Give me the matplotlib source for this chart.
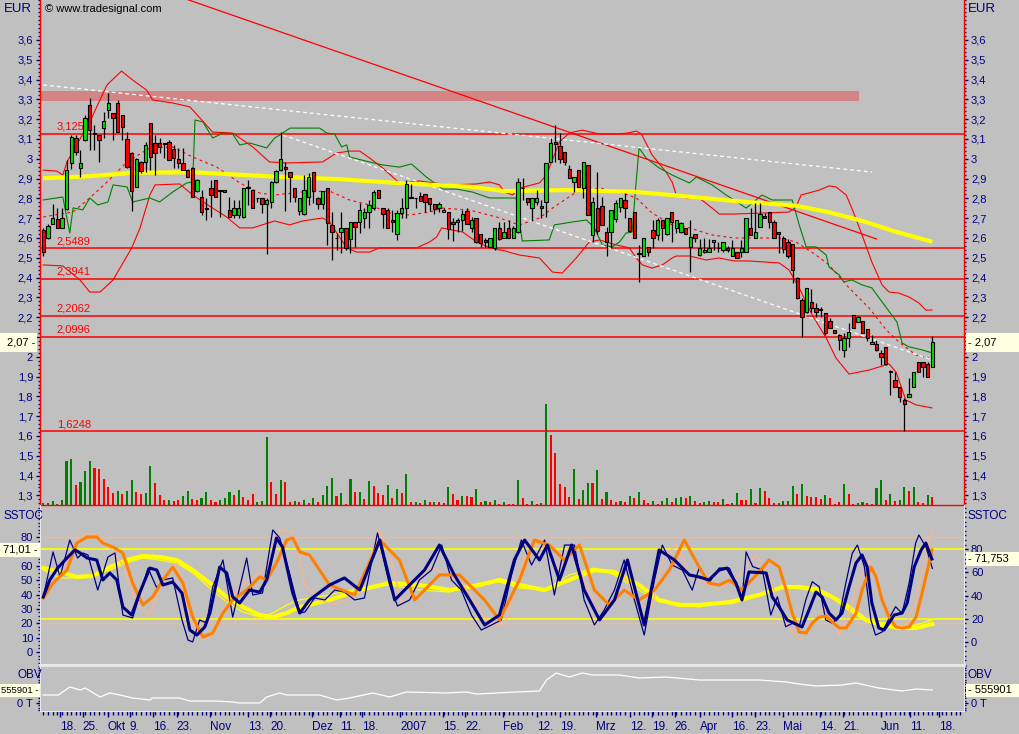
import numpy as np
import matplotlib
matplotlib.use("Agg")
import matplotlib.pyplot as plt
from matplotlib.patches import Rectangle
from matplotlib.ticker import FixedLocator, MultipleLocator, FuncFormatter

plt.rcParams['font.family'] = ['Liberation Sans', 'DejaVu Sans']

# ---------------------------------------------------------------- data
# daily candles (trading-day index 0 = 11 Sep 2006 ... 191 = 15 Jun 2007)
opens = [2.64, 2.60, 2.67, 2.695, 2.65, 2.746, 2.977, 3.104, 2.952, 3.095,
         3.272, 3.13, 3.12, 3.157, 3.246, 3.23, 3.28, 3.221, 3.098, 3.027,
         2.859, 2.985, 2.985, 3.179, 3.078, 3.078, 3.077, 3.083, 3.048, 2.999,
         2.977, 2.943, 2.955, 2.837, 2.809, 2.75, 2.851, 2.893, 2.838, 2.84,
         2.741, 2.716, 2.716, 2.708, 2.85, 2.842, 2.80, 2.80, 2.77, 2.78,
         2.884, 2.943, 2.96, 2.932, 2.851, 2.736, 2.72, 2.809, 2.932, 2.80,
         2.77, 2.851, 2.666, 2.60, 2.628, 2.649, 2.595, 2.679, 2.679, 2.70,
         2.73, 2.753, 2.842, 2.75, 2.741, 2.691, 2.62, 2.724, 2.75, 2.809,
         2.80, 2.812, 2.82, 2.80, 2.772, 2.753, 2.73, 2.73, 2.682, 2.679,
         2.691, 2.736, 2.649, 2.699, 2.618, 2.59, 2.556, 2.548, 2.649, 2.598,
         2.652, 2.598, 2.632, 2.85, 2.80, 2.75, 2.78, 2.761, 2.783, 2.985,
         3.087, 3.067, 3.036, 2.948, 2.881, 2.943, 2.851, 2.968, 2.615, 2.75,
         2.763, 2.632, 2.628, 2.696, 2.758, 2.792, 2.699, 2.73, 2.52, 2.511,
         2.556, 2.64, 2.615, 2.691, 2.618, 2.729, 2.649, 2.628, 2.652, 2.556,
         2.618, 2.514, 2.528, 2.528, 2.578, 2.548, 2.54, 2.55, 2.511, 2.531,
         2.528, 2.528, 2.649, 2.598, 2.657, 2.713, 2.73, 2.682, 2.628, 2.601,
         2.581, 2.568, 2.396, 2.287, 2.228, 2.278, 2.248, 2.236, 2.219, 2.181,
         2.135, 2.11, 2.034, 2.097, 2.211, 2.177, 2.181, 2.139, 2.063, 2.063,
         2.017, 2.051, 1.929, 1.883, 1.849, 1.782, 1.798, 1.849, 1.972, 1.972,
         1.962, 1.95]
highs = [2.65, 2.67, 2.77, 2.75, 2.75, 2.994, 3.12, 3.12, 3.044, 3.22,
         3.305, 3.17, 3.12, 3.238, 3.33, 3.23, 3.297, 3.221, 3.137, 3.036,
         3.006, 2.99, 3.087, 3.179, 3.12, 3.103, 3.078, 3.095, 3.07, 3.053,
         3.053, 2.95, 2.96, 2.90, 2.842, 2.80, 2.893, 2.893, 2.838, 2.84,
         2.809, 2.79, 2.79, 2.854, 2.893, 2.842, 2.80, 2.80, 2.80, 2.89,
         2.943, 3.137, 2.985, 2.932, 2.851, 2.80, 2.918, 2.927, 2.932, 2.809,
         2.837, 2.851, 2.733, 2.624, 2.733, 2.649, 2.679, 2.679, 2.775, 2.75,
         2.792, 2.842, 2.842, 2.75, 2.75, 2.741, 2.741, 2.80, 2.893, 2.871,
         2.80, 2.83, 2.82, 2.80, 2.772, 2.78, 2.75, 2.73, 2.703, 2.703,
         2.741, 2.75, 2.708, 2.699, 2.618, 2.598, 2.598, 2.649, 2.683, 2.679,
         2.691, 2.66, 2.901, 2.901, 2.80, 2.80, 2.842, 2.792, 2.977, 3.103,
         3.17, 3.128, 3.036, 2.968, 2.91, 2.943, 2.985, 2.968, 2.809, 2.935,
         2.809, 2.657, 2.741, 2.792, 2.80, 2.826, 2.699, 2.73, 2.567, 2.598,
         2.556, 2.691, 2.703, 2.691, 2.703, 2.733, 2.691, 2.682, 2.652, 2.691,
         2.618, 2.595, 2.598, 2.595, 2.59, 2.58, 2.578, 2.56, 2.59, 2.531,
         2.59, 2.699, 2.75, 2.775, 2.775, 2.724, 2.73, 2.691, 2.628, 2.611,
         2.595, 2.568, 2.405, 2.295, 2.349, 2.342, 2.27, 2.253, 2.219, 2.194,
         2.135, 2.113, 2.118, 2.169, 2.211, 2.208, 2.181, 2.139, 2.11, 2.085,
         2.034, 2.051, 1.933, 1.925, 1.849, 1.79, 1.891, 1.921, 1.972, 1.972,
         1.972, 2.107]
lows = [2.51, 2.595, 2.67, 2.65, 2.65, 2.74, 2.95, 3.02, 2.91, 3.09,
        3.045, 3.045, 2.985, 3.103, 3.204, 3.095, 3.137, 3.095, 2.952, 2.736,
        2.859, 2.93, 2.935, 2.943, 2.918, 3.028, 3.002, 2.994, 2.952, 2.952,
        2.943, 2.91, 2.809, 2.83, 2.716, 2.69, 2.708, 2.809, 2.708, 2.83,
        2.708, 2.70, 2.70, 2.70, 2.767, 2.75, 2.78, 2.725, 2.52, 2.75,
        2.876, 2.938, 2.736, 2.78, 2.783, 2.716, 2.716, 2.767, 2.775, 2.746,
        2.746, 2.565, 2.489, 2.54, 2.523, 2.54, 2.523, 2.556, 2.624, 2.649,
        2.649, 2.741, 2.80, 2.649, 2.649, 2.628, 2.59, 2.703, 2.703, 2.80,
        2.75, 2.787, 2.733, 2.736, 2.72, 2.733, 2.73, 2.595, 2.585, 2.632,
        2.635, 2.669, 2.632, 2.573, 2.556, 2.556, 2.556, 2.54, 2.59, 2.598,
        2.598, 2.598, 2.624, 2.792, 2.767, 2.686, 2.767, 2.699, 2.708, 2.985,
        2.985, 2.977, 2.968, 2.901, 2.834, 2.859, 2.80, 2.716, 2.581, 2.618,
        2.666, 2.511, 2.548, 2.679, 2.733, 2.699, 2.632, 2.598, 2.38, 2.511,
        2.511, 2.548, 2.59, 2.585, 2.615, 2.578, 2.624, 2.624, 2.618, 2.43,
        2.581, 2.511, 2.523, 2.528, 2.54, 2.531, 2.531, 2.53, 2.511, 2.501,
        2.506, 2.528, 2.615, 2.598, 2.657, 2.699, 2.649, 2.598, 2.523, 2.523,
        2.501, 2.371, 2.292, 2.101, 2.22, 2.228, 2.203, 2.203, 2.11, 2.143,
        2.118, 2.034, 2.0, 2.051, 2.147, 2.177, 2.118, 2.08, 2.063, 2.029,
        1.959, 1.959, 1.807, 1.849, 1.773, 1.625, 1.798, 1.849, 1.921, 1.90,
        1.90, 1.95]
closes = [2.53, 2.66, 2.70, 2.65, 2.70, 2.943, 3.112, 3.036, 2.977, 3.204,
          3.145, 3.125, 3.095, 3.19, 3.28, 3.208, 3.137, 3.162, 2.96, 2.837,
          2.999, 2.938, 3.07, 3.011, 3.028, 3.061, 3.075, 2.994, 3.006, 2.977,
          2.943, 2.91, 2.809, 2.893, 2.73, 2.745, 2.817, 2.809, 2.837, 2.83,
          2.708, 2.75, 2.75, 2.854, 2.86, 2.75, 2.80, 2.77, 2.79, 2.884,
          2.938, 2.999, 2.948, 2.91, 2.809, 2.80, 2.842, 2.91, 2.837, 2.77,
          2.837, 2.674, 2.632, 2.598, 2.649, 2.548, 2.679, 2.657, 2.741, 2.73,
          2.767, 2.83, 2.80, 2.72, 2.649, 2.679, 2.724, 2.75, 2.871, 2.80,
          2.80, 2.787, 2.78, 2.77, 2.746, 2.77, 2.74, 2.644, 2.669, 2.691,
          2.72, 2.669, 2.691, 2.582, 2.573, 2.578, 2.598, 2.649, 2.595, 2.628,
          2.598, 2.649, 2.884, 2.851, 2.78, 2.80, 2.80, 2.75, 2.977, 3.078,
          3.077, 3.0, 2.985, 2.901, 2.91, 2.859, 2.985, 2.716, 2.783, 2.635,
          2.666, 2.581, 2.741, 2.775, 2.80, 2.75, 2.635, 2.598, 2.52, 2.598,
          2.528, 2.598, 2.691, 2.649, 2.699, 2.682, 2.691, 2.674, 2.618, 2.607,
          2.598, 2.548, 2.54, 2.551, 2.59, 2.548, 2.578, 2.54, 2.548, 2.501,
          2.548, 2.699, 2.615, 2.632, 2.72, 2.699, 2.679, 2.598, 2.618, 2.544,
          2.511, 2.438, 2.295, 2.203, 2.349, 2.248, 2.228, 2.235, 2.118, 2.147,
          2.12, 2.085, 2.093, 2.127, 2.147, 2.203, 2.118, 2.093, 2.076, 2.034,
          2.0, 1.962, 1.922, 1.849, 1.798, 1.76, 1.81, 1.921, 1.921, 1.95,
          1.90, 2.073]
# volume in thousand shares
volume = [20, 20, 40, 10, 50, 440, 460, 200, 230, 340, 440, 370, 360, 260, 180, 120, 140, 110, 140, 250,
          130, 110, 120, 390, 220, 100, 50, 50, 40, 50, 90, 140, 60, 50, 70, 130, 50, 30, 50, 70,
          130, 100, 150, 80, 50, 110, 30, 40, 680, 230, 110, 250, 230, 30, 40, 30, 50, 20, 70, 30,
          100, 190, 270, 90, 120, 10, 260, 130, 130, 60, 240, 190, 120, 100, 200, 70, 160, 120, 310, 30,
          30, 20, 50, 30, 30, 30, 20, 180, 110, 50, 90, 90, 80, 160, 30, 40, 30, 50, 10, 30,
          10, 10, 250, 70, 10, 40, 10, 20, 1010, 700, 520, 210, 180, 80, 360, 60, 150, 220, 220, 350,
          60, 130, 50, 30, 40, 30, 90, 70, 130, 50, 20, 40, 10, 40, 70, 30, 70, 80, 70, 90,
          40, 20, 30, 40, 30, 30, 60, 10, 20, 120, 50, 50, 160, 20, 170, 140, 70, 20, 20, 40,
          40, 190, 110, 210, 90, 80, 80, 60, 100, 70, 10, 30, 210, 110, 10, 20, 30, 20, 10, 170,
          250, 50, 110, 40, 50, 180, 140, 180, 30, 20, 100, 80]
volume_dir = ("gggggggrgggrrrrrgrggrrggrrrgrrggrrggrrgggrgrrrgggr"
              "rgrrgrgrgrgggrgrgrgrgrrrgrgrgrgrgrgrrgrrgrrgrgrgrg"
              "rrgrrgrggrrrrrgrggrgrgrrgrgrgrrgrggrggrgrrggrrgrgg"
              "rrgrgrrrggggrgrrrrgrrrgrrggrrggrgrggrgrrgr")

# horizontal support / resistance levels
levels = [3.1251, 2.5489, 2.3941, 2.2062, 2.0996, 1.6248]
zone_low, zone_high, zone_end = 3.292, 3.342, 175.3

# trend lines (day index, price)
trend_red_x, trend_red_p = [20, 179], [3.894, 2.595]
trend_w1_x, trend_w1_p = [0, 178], [3.373, 2.933]
trend_w2_x, trend_w2_p = [51.5, 191], [3.12, 1.984]

# long moving average (yellow)
ma_x = [0, 8.6, 20.0, 32.2, 49.7, 63.0, 77.3, 91.6, 99.0, 112.3, 126.6, 137.3, 148.4, 161.7, 168.8, 176.0, 183.1, 191.0]
ma_p = [2.902, 2.910, 2.930, 2.932, 2.910, 2.898, 2.876, 2.859, 2.837, 2.842, 2.834, 2.812, 2.787, 2.763, 2.730, 2.686, 2.632, 2.581]

# Bollinger bands
bb_up_x = [0, 2.9, 4.2, 5.1, 10.0, 13.7, 16.8, 19.2, 22.2, 23.5, 27.8, 31.5, 36.4, 40.7, 45.0, 48.6, 52.3, 60.0, 63.0, 65.8,
           68.0, 70.1, 72.9, 76.5, 80.8, 87.3, 93.1, 95.9, 98.0, 99.1, 100.8, 102.3, 106.6, 108.1, 110.9, 113.0, 115.8, 119.5, 123.1, 125.5,
           127.4, 128.5, 130.8, 133.8, 135.1, 136.0, 138.1, 140.9, 143.7, 145.2, 148.4, 154.4, 160.2, 161.7, 162.8, 166.7, 168.8, 170.3, 172.5, 173.7,
           175.9, 178.0, 180.2, 181.7, 183.8, 186.0, 188.1, 189.6, 190.9]
bb_up_p = [2.943, 2.938, 2.918, 2.984, 3.187, 3.373, 3.443, 3.398, 3.347, 3.297, 3.282, 3.262, 3.135, 3.130, 3.060, 2.984, 2.979, 2.984, 3.029, 3.039,
           3.039, 3.004, 2.954, 2.878, 2.888, 2.868, 2.873, 2.883, 2.868, 2.832, 2.817, 2.852, 2.878, 2.918, 3.085, 3.130, 3.145, 3.125, 3.125, 3.130,
           3.140, 3.125, 3.019, 2.933, 2.883, 2.817, 2.802, 2.802, 2.751, 2.721, 2.721, 2.726, 2.731, 2.756, 2.817, 2.842, 2.863, 2.858, 2.817, 2.751,
           2.615, 2.479, 2.363, 2.327, 2.322, 2.302, 2.272, 2.236, 2.236]
bb_lo_x = [0, 4.2, 7.9, 10.0, 12.2, 15.0, 19.0, 20.8, 22.9, 24.0, 29.3, 32.1, 36.4, 39.4, 42.2, 45.0, 49.7, 52.9, 55.7, 60.0,
           61.5, 65.2, 67.3, 70.1, 72.2, 80.2, 83.0, 84.5, 85.6, 90.1, 93.1, 95.9, 99.1, 102.3, 106.6, 109.4, 111.5, 114.5, 117.3, 119.5,
           123.1, 125.9, 127.4, 128.7, 130.8, 133.0, 135.1, 136.0, 138.8, 142.4, 145.2, 148.4, 151.6, 158.1, 160.2, 162.4, 165.2, 168.2, 170.3, 173.1,
           177.4, 181.7, 183.2, 185.3, 187.5, 190.9]
bb_lo_p = [2.464, 2.459, 2.388, 2.327, 2.327, 2.388, 2.550, 2.651, 2.817, 2.868, 2.873, 2.817, 2.751, 2.706, 2.651, 2.651, 2.686, 2.666, 2.686, 2.701,
           2.681, 2.550, 2.529, 2.529, 2.550, 2.550, 2.580, 2.605, 2.651, 2.630, 2.580, 2.550, 2.535, 2.514, 2.499, 2.428, 2.423, 2.499, 2.580, 2.590,
           2.565, 2.550, 2.499, 2.464, 2.448, 2.464, 2.499, 2.509, 2.509, 2.489, 2.499, 2.484, 2.484, 2.474, 2.439, 2.348, 2.211, 2.095, 1.994, 1.913,
           1.933, 1.964, 1.923, 1.782, 1.757, 1.742]
bb_mid_x = [0, 6.4, 10.0, 13.7, 18.0, 22.9, 27.8, 32.1, 37.3, 42.2, 46.5, 49.7, 55.7, 61.5, 65.8, 70.1, 74.4, 78.7, 83.0, 85.8,
            91.6, 97.4, 102.3, 106.6, 109.4, 114.5, 119.5, 124.4, 127.4, 130.8, 135.1, 138.1, 143.7, 148.4, 158.1, 161.7, 166.0, 168.8, 173.1, 177.4,
            181.1, 183.8, 187.5, 190.3]
bb_mid_p = [2.706, 2.732, 2.802, 2.883, 2.984, 3.055, 3.060, 3.009, 2.958, 2.878, 2.827, 2.817, 2.832, 2.837, 2.792, 2.767, 2.726, 2.716, 2.731, 2.751,
            2.741, 2.706, 2.666, 2.701, 2.751, 2.832, 2.853, 2.827, 2.802, 2.726, 2.666, 2.656, 2.615, 2.600, 2.600, 2.580, 2.514, 2.464, 2.348, 2.247,
            2.136, 2.075, 2.009, 1.994]

# volatility stop (green)
stop_x = [0, 4.2, 5.7, 6.4, 8.5, 10.0, 11.7, 13.9, 15.0, 18.0, 19.2, 22.9, 25.0, 27.8, 30.8, 32.1, 32.6, 34.3, 36.4, 38.6,
          40.7, 42.2, 44.3, 48.0, 49.7, 50.8, 53.0, 59.4, 60.9, 62.6, 64.1, 65.2, 65.8, 70.1, 72.9, 76.5, 79.1, 82.3, 85.8, 88.8,
          92.2, 95.9, 101.6, 102.9, 108.7, 109.8, 113.7, 116.7, 118.4, 120.1, 122.2, 123.8, 125.2, 126.5, 127.4, 128.0, 129.5, 132.3, 135.1, 138.8,
          140.3, 143.7, 146.7, 148.4, 151.0, 154.4, 156.6, 160.9, 162.4, 163.9, 166.0, 168.2, 168.8, 171.0, 172.0, 173.7, 175.9, 178.0, 180.2, 182.3,
          183.4, 184.5, 186.0, 188.8, 190.9]
stop_p = [2.792, 2.807, 2.625, 2.752, 2.742, 2.802, 2.767, 2.782, 2.868, 2.858, 2.782, 2.802, 2.782, 2.832, 2.878, 2.883, 3.196, 3.186, 3.105, 3.130,
          3.125, 3.070, 3.080, 3.055, 3.105, 3.120, 3.155, 3.155, 3.130, 3.125, 3.060, 3.070, 3.009, 2.984, 2.969, 2.958, 2.974, 2.908, 2.847, 2.847,
          2.832, 2.802, 2.802, 2.585, 2.590, 2.666, 2.681, 2.691, 2.651, 2.565, 2.555, 2.580, 2.625, 2.630, 2.893, 3.055, 3.004, 2.954, 2.918, 2.878,
          2.908, 2.868, 2.817, 2.792, 2.751, 2.817, 2.792, 2.792, 2.666, 2.555, 2.555, 2.514, 2.454, 2.413, 2.378, 2.388, 2.363, 2.348, 2.277, 2.211,
          2.176, 2.070, 2.050, 2.035, 2.020]

# stochastic panel (left-axis units)
nk_x = [0, 1.4, 3.1, 5.1, 6.8, 7.9, 9.4, 11.5, 12.8, 14.3, 15.8, 17.1, 19.0, 20.7, 22.9, 24.4, 25.7, 27.8, 29.8, 31.5,
        33.0, 34.7, 35.8, 37.9, 39.4, 40.7, 42.2, 44.3, 46.5, 48.0, 50.1, 51.4, 53.6, 55.1, 57.2, 61.5, 64.7, 68.0, 72.3, 75.5,
        78.7, 81.9, 85.1, 88.3, 91.6, 94.8, 98.0, 101.2, 103.4, 106.6, 108.3, 110.9, 113.5, 116.2, 119.5, 122.7, 125.5, 129.1, 132.3, 135.6,
        138.8, 140.9, 143.0, 145.2, 146.9, 148.8, 150.1, 151.6, 155.3, 156.6, 158.1, 159.8, 163.0, 164.5, 166.0, 167.3, 168.8, 170.3, 171.6, 173.1,
        174.6, 175.9, 177.0, 178.0, 179.5, 180.6, 181.7, 182.8, 184.5, 185.6, 187.1, 188.6, 189.6, 190.9]
nk_v = [38.3, 50.1, 58.4, 65.4, 71.0, 68.9, 65.4, 64.0, 50.1, 55.0, 50.1, 31.3, 25.7, 41.0, 58.4, 57.0, 46.6, 48.7, 41.0, 15.3,
        11.8, 17.4, 27.1, 59.1, 55.0, 38.3, 34.1, 43.1, 41.7, 50.1, 79.3, 73.0, 41.0, 27.1, 36.2, 46.6, 51.5, 43.1, 77.9, 36.2,
        46.6, 57.0, 74.4, 53.6, 36.2, 18.8, 25.7, 64.0, 77.9, 64.0, 74.4, 50.1, 74.4, 43.1, 22.3, 36.2, 64.0, 18.8, 71.0, 64.0,
        53.6, 52.2, 50.1, 57.0, 58.4, 48.0, 36.2, 55.7, 55.0, 38.3, 31.3, 22.3, 17.4, 29.2, 41.7, 38.3, 27.1, 22.3, 27.1, 45.2,
        61.9, 67.5, 59.1, 34.1, 16.7, 15.3, 20.2, 25.7, 27.1, 34.1, 59.1, 71.0, 75.8, 64.7]
ok_x = [0, 2.1, 5.1, 7.2, 9.4, 11.5, 12.8, 15.0, 17.1, 19.2, 21.4, 23.5, 25.7, 27.8, 30.0, 32.1, 34.3, 36.4, 38.6, 40.7,
        43.7, 46.5, 48.0, 50.1, 52.3, 53.6, 55.1, 57.2, 61.5, 66.9, 72.3, 76.5, 79.8, 85.1, 89.4, 94.8, 98.0, 102.3, 105.5, 108.7,
        111.9, 115.2, 118.4, 121.6, 124.8, 128.0, 131.3, 134.5, 137.7, 140.9, 143.0, 145.2, 147.4, 150.1, 153.8, 155.9, 158.1, 159.6, 160.9, 162.4,
        163.9, 165.2, 166.7, 168.2, 169.5, 171.0, 172.5, 174.6, 175.9, 177.8, 178.9, 180.2, 181.7, 183.2, 184.5, 186.0, 187.5, 188.8, 190.3, 190.9]
ok_v = [37.6, 48.0, 57.0, 75.8, 80.0, 80.0, 75.8, 73.0, 68.9, 48.0, 32.7, 38.3, 50.1, 59.1, 48.0, 24.3, 10.4, 13.2, 27.1, 36.2,
        43.1, 52.2, 50.1, 61.9, 77.9, 79.3, 69.6, 67.5, 46.6, 39.7, 77.9, 64.0, 36.2, 53.6, 53.6, 36.2, 22.3, 50.1, 77.9, 74.4,
        64.0, 74.4, 43.1, 32.7, 43.1, 36.2, 43.1, 57.0, 77.9, 59.1, 48.0, 46.6, 50.1, 43.1, 55.7, 64.0, 59.1, 43.1, 27.1, 13.9,
        13.2, 20.2, 24.3, 25.0, 20.9, 16.7, 16.7, 27.1, 43.1, 59.1, 52.2, 36.2, 24.3, 17.4, 16.7, 17.4, 24.3, 41.0, 61.9, 71.0]
nt_x = [0, 2.1, 3.6, 5.7, 7.4, 8.5, 9.6, 11.7, 13.9, 15.4, 17.1, 19.2, 22.5, 24.4, 25.7, 27.8, 29.8, 31.1, 32.1, 33.6,
        35.1, 36.4, 38.6, 40.7, 43.7, 45.0, 47.1, 49.3, 50.8, 52.9, 55.1, 56.2, 58.3, 60.5, 62.6, 64.7, 66.9, 69.0, 71.8, 74.4,
        76.1, 78.7, 80.8, 83.4, 85.6, 87.7, 89.8, 92.0, 94.1, 96.3, 98.4, 100.6, 102.7, 104.9, 107.7, 109.8, 112.0, 114.1, 116.2, 118.4,
        120.5, 122.7, 124.8, 127.0, 129.1, 131.3, 133.0, 135.1, 137.3, 139.4,
        140.9, 143.0, 145.2, 147.4, 148.8, 150.1, 151.0, 152.4, 154.5, 156.3, 157.7, 159.5, 161.0, 162.4, 163.8, 165.2, 166.7, 168.1,
        169.5, 171.0, 172.4, 173.8, 174.9, 176.4, 177.8, 178.8, 180.3, 181.7, 183.1, 184.5, 186.0, 187.4, 188.1, 189.6, 191.0]
nt_v = [38.3, 69.6, 52.2, 77.9, 65.4, 68.9, 67.5, 43.1, 66.1, 68.9, 25.7, 23.7, 58.4, 44.5, 50.1, 51.5, 22.3, 8.3, 7.0, 22.3,
        20.2, 45.2, 64.0, 24.3, 65.4, 39.7, 41.0, 84.9, 79.3, 55.0, 27.1, 27.8, 37.6, 36.2, 43.1, 41.7, 36.2, 37.6, 82.8, 46.6,
        32.0, 36.2, 50.1, 57.0, 74.4, 50.1, 43.1, 25.7, 15.3, 18.8, 22.3, 53.6, 77.9, 60.5, 77.9, 39.7, 74.4, 74.4, 36.2, 18.8,
        29.2, 43.1, 64.0, 36.2, 11.8, 50.1, 74.4, 60.5, 57.0, 43.1,
        58.4, 48.0, 58.4, 58.4, 48.0, 36.2, 69.6, 59.4, 57.0, 25.7, 38.5, 17.6, 20.0, 17.6, 36.2, 48.9, 45.4, 22.3,
        20.0, 24.6, 47.8, 68.7, 74.4, 59.4, 22.3, 11.8, 14.1, 23.4, 31.5, 26.9, 47.8, 75.6, 81.4, 73.3, 58.2]
st_x = [0, 3.6, 7.2, 9.4, 11.5, 14.3, 17.1, 20.1, 22.9, 25.7, 28.7, 31.5, 34.3, 36.4, 39.4, 43.7, 46.5, 48.6, 50.8, 53.6,
        55.1, 56.2, 59.4, 62.6, 65.8, 69.0, 72.2, 74.8, 77.0, 79.8, 83.0, 86.2, 89.4, 92.6, 95.9, 99.1, 101.9, 104.4, 107.7, 110.9,
        113.5, 116.2, 119.5, 122.0, 124.8, 128.0, 130.6, 133.4, 136.2, 138.8,
        140.9, 145.2, 149.5, 153.1, 155.9, 159.6, 162.4, 165.2, 168.2, 171.0, 173.1, 175.2, 177.4, 179.5, 182.3, 184.9, 187.5, 189.6, 190.9]
st_v = [36.2, 53.6, 77.9, 82.8, 81.4, 72.3, 60.5, 32.7, 25.7, 50.1, 61.9, 22.3, 8.3, 11.8, 36.2, 48.7, 55.0, 64.0, 84.9, 83.5,
        64.0, 46.6, 36.2, 32.7, 37.6, 53.6, 84.9, 64.0, 32.7, 43.1, 60.5, 53.6, 50.1, 36.2, 18.8, 18.8, 50.1, 74.4, 74.4, 57.0,
        71.0, 50.1, 29.2, 32.7, 53.6, 32.7, 29.2, 67.5, 74.4, 53.6,
        50.1, 43.1, 53.6, 67.5, 53.6, 18.8, 8.3, 18.8, 32.7, 11.8, 27.1, 48.0, 64.0, 43.1, 18.8, 15.3, 36.2, 67.5, 84.9]
yk_x = [0, 3.6, 7.2, 10.7, 14.3, 17.9, 21.4, 25.0, 28.7, 32.1, 35.8, 39.4, 42.9, 46.5, 49.3, 52.3, 55.1, 61.5, 68.0, 74.4,
        80.8, 87.3, 93.7, 98.0, 102.3, 107.7, 113.0, 118.4, 122.7, 128.0, 132.3, 136.6, 140.9, 148.0, 153.8, 158.8, 162.4, 166.0, 169.5, 173.1,
        176.7, 180.2, 183.8, 187.5, 191.0]
yk_v = [58.4, 55.7, 52.2, 52.9, 59.1, 64.0, 66.8, 66.1, 64.0, 57.0, 48.0, 38.3, 31.3, 25.7, 24.3, 27.1, 31.3, 36.2, 43.1, 48.0,
        46.6, 43.1, 46.6, 50.1, 46.6, 43.1, 50.1, 57.0, 55.7, 46.6, 36.2, 32.7, 32.7, 34.8, 39.7, 45.2, 45.2, 43.8, 38.3, 31.3,
        22.3, 18.8, 16.7, 16.7, 19.5]
yt_x = [0, 3.6, 7.2, 10.7, 14.3, 17.9, 21.4, 25.0, 28.7, 32.1, 35.8, 39.4, 42.9, 46.5, 49.3, 52.3, 55.1, 61.5, 68.0, 74.4,
        80.8, 87.3, 93.7, 98.0, 102.3, 107.7, 113.0, 118.4, 122.7, 128.0, 132.3, 136.6, 140.9, 148.0, 155.3, 159.6, 164.5, 169.5, 173.8, 177.4,
        181.1, 183.8, 187.5, 190.9]
yt_v = [57.0, 51.5, 51.5, 53.6, 57.0, 61.9, 65.4, 64.0, 61.9, 55.0, 44.5, 34.8, 27.8, 24.3, 27.1, 32.7, 36.2, 39.7, 44.5, 46.6,
        43.1, 41.7, 48.0, 48.7, 44.5, 43.1, 53.6, 58.4, 53.6, 43.1, 34.8, 34.1, 31.3, 36.2, 41.7, 45.2, 43.1, 37.6, 27.1, 20.9,
        20.2, 17.4, 18.8, 22.3]
stoch_last_left, stoch_last_right = 71.01, 71.753

# on-balance volume (thousands)
obv_x = [0, 3.2, 5.7, 7.9, 9.0, 12.2, 14.3, 16.5, 19.2, 22.9, 23.5, 29.3, 31.5, 37.3, 40.7, 42.2, 46.5, 48.0, 50.8, 52.3,
         59.4, 63.0, 65.8, 70.8, 74.4, 78.0, 86.6, 90.9, 93.1, 101.6, 106.6, 108.1, 110.2, 113.0, 115.8, 118.0, 123.8, 128.0, 133.8, 140.9,
         153.8, 159.6, 162.4, 166.0, 171.6, 174.6, 179.5, 184.5, 187.5, 191.0]
obv_v = [342, 342, 685, 556, 642, 257, 428, 342, 214, 128, 214, 214, 86, 86, 43, 0, 0, 257, 428, 342,
         342, 128, 214, 428, 257, 471, 428, 471, 385, 471, 514, 984, 1284, 1113, 1284, 1198, 1198, 1070, 1113, 984,
         984, 899, 813, 728, 770, 856, 642, 514, 599, 555.901]

# date axis
date_ticks = [3.7, 8.5, 13.9, 18.6, 23.5, 28.7, 35.8, 43.9, 48.8, 57.8, 63.8, 68.5, 76.7, 85.8, 90.6, 98.7,
              106.0, 111.0, 118.8, 126.0, 130.8, 135.7, 141.1, 147.9, 152.9, 159.0, 166.8, 171.8, 179.9, 186.3, 192.4]
date_labels = ['18.', '25.', 'Okt', '9.', '16.', '23.', 'Nov', '13.', '20.', 'Dez', '11.', '18.', '2007', '15.', '22.', 'Feb',
               '12.', '19.', 'Mrz', '12.', '19.', '26.', 'Apr', '16.', '23.', 'Mai', '14.', '21.', 'Jun', '11.', '18.']

# ---------------------------------------------------------------- style
BG = '#c0c0c0'
NAVY = '#000080'
W, H = 1019, 734
XLIM = (-0.7, 197.8)

fig = plt.figure(figsize=(W / 100, H / 100), dpi=100, facecolor=BG)


def rect(x0, y0, x1, y1):
    return [x0 / W, 1 - y1 / H, (x1 - x0) / W, (y1 - y0) / H]


def comma(v, pos=None):
    s = '%g' % round(v, 4)
    return s.replace('.', ',')


def style_y(a):
    a.tick_params(axis='y', which='both', colors=NAVY, labelcolor=NAVY, direction='out', labelsize=8)
    a.tick_params(axis='y', which='major', length=3, width=1, pad=2)
    a.tick_params(axis='y', which='minor', length=1.5, width=1)


def value_box(a, value, text, side, x0, x1, h=19, fs=8):
    y = a.transData.transform((0, value))[1]
    yf = fig.transFigure.inverted().transform((0, y))[1]
    fig.add_artist(Rectangle((x0 / W, yf - h / 2 / H), (x1 - x0) / W, h / H, transform=fig.transFigure,
                             facecolor='#ffffe1', edgecolor='none', zorder=10))
    if side == 'left':
        fig.text((x1 - 2) / W, yf, text + ' -', ha='right', va='center', fontsize=fs, color='black', zorder=11)
    else:
        fig.text((x0 + 2) / W, yf, '- ' + text, ha='left', va='center', fontsize=fs, color='black', zorder=11)


# ------------------------------------------------------------- main panel
ax = fig.add_axes(rect(40, 0, 964, 505))
axv = ax.twinx()
axv.set_zorder(ax.get_zorder() - 1)
ax.patch.set_visible(False)
axv.set_ylim(0, 5050)
axv.axis('off')

idx = np.arange(len(closes))
vcol = ['#008000' if d == 'g' else '#ff0000' for d in volume_dir]
axv.bar(idx, volume, width=0.45, color=vcol, linewidth=0)

ax.set_xlim(*XLIM)
ax.set_ylim(1.2515, 3.802)

ax.fill_between([XLIM[0], zone_end], zone_low, zone_high, color='#d38585', lw=0, zorder=1)
for lvl in levels:
    ax.axhline(lvl, color='red', lw=1.1, zorder=1.5)
    ax.annotate(comma(lvl), xy=(2.9, lvl), xytext=(0, 1.5), textcoords='offset points',
                color='red', fontsize=8, ha='left', va='bottom', zorder=2)

ax.plot(bb_up_x, bb_up_p, color='red', lw=0.8, zorder=2)
ax.plot(bb_lo_x, bb_lo_p, color='red', lw=0.8, zorder=2)
ax.plot(bb_mid_x, bb_mid_p, color='red', lw=0.8, dashes=(2.5, 3), zorder=2)
ax.plot(stop_x, stop_p, color='#008000', lw=0.8, zorder=2)
ax.plot(ma_x, ma_p, color='#ffff00', lw=3, zorder=2.2, solid_capstyle='butt')
ax.plot(trend_red_x, trend_red_p, color='red', lw=0.9, zorder=2)
ax.plot(trend_w1_x, trend_w1_p, color='white', lw=0.9, dashes=(3, 2.5), zorder=2)
ax.plot(trend_w2_x, trend_w2_p, color='white', lw=0.9, dashes=(3, 2.5), zorder=2)

o = np.array(opens); c = np.array(closes); hi = np.array(highs); lo = np.array(lows)
ax.vlines(idx, lo, hi, color='black', lw=0.9, zorder=4)
body_b = np.minimum(o, c)
body_h = np.maximum(np.abs(c - o), 0.004)
ax.bar(idx, body_h, bottom=body_b, width=0.72, color=np.where(c >= o, '#00e000', '#ff0000'),
       edgecolor='black', linewidth=0.8, zorder=5)

for s in ('left', 'right', 'bottom'):
    ax.spines[s].set_color('red')
    ax.spines[s].set_linewidth(1)
ax.spines['top'].set_visible(False)
ax.yaxis.set_major_locator(FixedLocator(np.round(np.arange(1.3, 3.61, 0.1), 2)))
ax.yaxis.set_minor_locator(MultipleLocator(0.02))
ax.yaxis.set_major_formatter(FuncFormatter(comma))
ax.tick_params(axis='y', which='both', left=True, right=True, labelleft=True, labelright=True)
style_y(ax)
ax.tick_params(axis='x', which='both', bottom=False, labelbottom=False)

fig.text(4 / W, 1 - 9 / H, 'EUR', color=NAVY, fontsize=9.5, va='center')
fig.text(968 / W, 1 - 9 / H, 'EUR', color=NAVY, fontsize=9.5, va='center')
fig.text(45 / W, 1 - 9 / H, '\u00a9 www.tradesignal.com', color='black', fontsize=8, va='center')

# ------------------------------------------------------------- stochastic
ax2 = fig.add_axes(rect(40, 505, 964, 665))
ax2r = ax2.twinx()
ax2r.set_zorder(ax2.get_zorder() - 1)
ax2.patch.set_visible(False)
ax2r.patch.set_visible(True)
ax2r.patch.set_facecolor(BG)
ax2.set_xlim(*XLIM)
ax2.set_ylim(-9.04, 102.26)
ax2r.set_ylim(-20.2, 118.4)

ax2.axhline(80, color='#ffb48c', lw=1, zorder=1)
ax2.axhline(20, color='#ffb48c', lw=1, zorder=1)
ax2r.axhline(80, color='#ffff00', lw=1.2)
ax2r.axhline(20, color='#ffff00', lw=1.2)

ax2.plot(yt_x, yt_v, color='#ffff00', lw=0.9, zorder=2)
ax2.plot(yk_x, yk_v, color='#ffff00', lw=3, zorder=2.1)
ax2.plot(st_x, st_v, color='#ffb48c', lw=0.9, zorder=2.2)
ax2.plot(nt_x, nt_v, color=NAVY, lw=0.9, zorder=2.3)
ax2.plot(ok_x, ok_v, color='#ff8000', lw=2.2, zorder=2.4)
ax2.plot(nk_x, nk_v, color=NAVY, lw=2.2, zorder=2.5)

for s in ('left', 'right', 'bottom'):
    ax2.spines[s].set_color('#e8e8e8')
ax2.spines['bottom'].set_linewidth(2)
ax2.spines['top'].set_visible(False)
for s in ax2r.spines.values():
    s.set_visible(False)
# the 70 label sits under the current-value box in the reference
ax2.yaxis.set_major_locator(FixedLocator([0, 10, 20, 30, 40, 50, 60, 80]))
ax2.yaxis.set_minor_locator(MultipleLocator(2.5))
ax2.yaxis.set_major_formatter(FuncFormatter(comma))
style_y(ax2)
ax2r.yaxis.set_major_locator(FixedLocator(range(0, 81, 20)))
ax2r.yaxis.set_minor_locator(MultipleLocator(4))
ax2r.yaxis.set_major_formatter(FuncFormatter(comma))
style_y(ax2r)
ax2.tick_params(axis='x', which='both', bottom=False, labelbottom=False)
fig.text(3 / W, 1 - 516 / H, 'SSTOC', color=NAVY, fontsize=8.5, va='center')
fig.text(968 / W, 1 - 516 / H, 'SSTOC', color=NAVY, fontsize=8.5, va='center')

# ------------------------------------------------------------- OBV
ax3 = fig.add_axes(rect(40, 665, 964, 711), facecolor=BG)
ax3.set_xlim(*XLIM)
ax3.set_ylim(-342, 1626)
ax3.plot(obv_x, obv_v, color='white', lw=0.9)
for s in ax3.spines.values():
    s.set_color('#e8e8e8')
ax3.spines['top'].set_linewidth(2)
ax3.yaxis.set_major_locator(FixedLocator([0, 555.901]))
ax3.yaxis.set_major_formatter(FuncFormatter(lambda v, p: '0 T' if v == 0 else ''))
ax3.yaxis.set_minor_locator(MultipleLocator(100))
ax3.tick_params(axis='y', which='both', left=True, right=True, labelleft=True, labelright=True)
style_y(ax3)
fig.text(18 / W, 1 - 675 / H, 'OBV', color=NAVY, fontsize=8.5, va='center')
fig.text(968 / W, 1 - 675 / H, 'OBV', color=NAVY, fontsize=8.5, va='center')

ax3.xaxis.set_major_locator(FixedLocator(date_ticks))
ax3.xaxis.set_minor_locator(MultipleLocator(1))
ax3.set_xticklabels(date_labels)
ax3.tick_params(axis='x', which='both', colors=NAVY, labelcolor=NAVY, direction='out', labelsize=8.5)
ax3.tick_params(axis='x', which='major', length=4, width=1, pad=3)
ax3.tick_params(axis='x', which='minor', length=3, width=1)
for t in ax3.get_xticklabels():
    t.set_horizontalalignment('left')

# ------------------------------------------------------------- value boxes
value_box(ax, closes[-1], comma(round(closes[-1], 2)), 'left', 0, 37)
value_box(ax, closes[-1], comma(round(closes[-1], 2)), 'right', 966, 1019)
value_box(ax2, stoch_last_left, comma(stoch_last_left), 'left', 0, 40, 14)
value_box(ax2r, stoch_last_right, comma(stoch_last_right), 'right', 966, 1019, 14)
value_box(ax3, obv_v[-1], '555901', 'left', 0, 40, 13, 6.8)
value_box(ax3, obv_v[-1], '555901', 'right', 966, 1019, 13)

fig.savefig('out.png', dpi=100, facecolor=BG)
